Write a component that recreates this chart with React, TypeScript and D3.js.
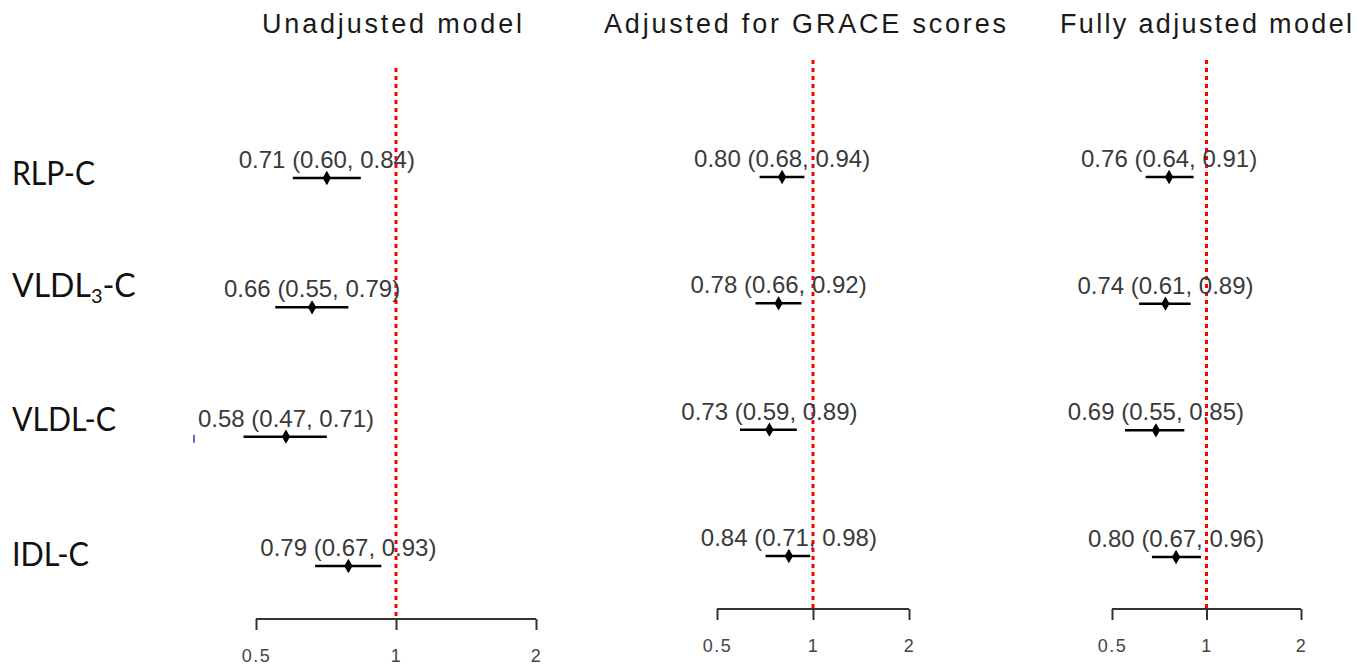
import React, { useRef, useEffect } from "react";
import * as d3 from "d3";

// rows, top to bottom
const markers = ["RLP-C", "VLDL3-C", "VLDL-C", "IDL-C"];

// panel titles
const titles = ["Unadjusted model", "Adjusted for GRACE scores", "Fully adjusted model"];

// hazard ratios with 95% CI, one array per panel
const unadjEst = [0.71, 0.66, 0.58, 0.79];
const unadjLo = [0.60, 0.55, 0.47, 0.67];
const unadjHi = [0.84, 0.79, 0.71, 0.93];

const graceEst = [0.80, 0.78, 0.73, 0.84];
const graceLo = [0.68, 0.66, 0.59, 0.71];
const graceHi = [0.94, 0.92, 0.89, 0.98];

const fullEst = [0.76, 0.74, 0.69, 0.80];
const fullLo = [0.64, 0.61, 0.55, 0.67];
const fullHi = [0.91, 0.89, 0.85, 0.96];

const xTicks = [0.5, 1, 2];

const W = 1371;
const H = 667;

const App = () => {
    const plot = useRef(null);

    useEffect(() => {
        const svg = d3.select(plot.current);
        svg.selectAll("*").remove();

        // layout of each panel (the three panels were pasted side by side, so each has its own size)
        const panels = [
            { est: unadjEst, lo: unadjLo, hi: unadjHi, x0: 256, x1: 536, y0: 178, y1: 566, axisY: 619, labY: 662, topY: 68, titleW: 260, titleX: 392 },
            { est: graceEst, lo: graceLo, hi: graceHi, x0: 717, x1: 909, y0: 177, y1: 556, axisY: 609, labY: 652, topY: 60, titleW: 402, titleX: 805 },
            { est: fullEst, lo: fullLo, hi: fullHi, x0: 1112, x1: 1301, y0: 177, y1: 557, axisY: 609, labY: 652, topY: 60, titleW: 292, titleX: 1206 },
        ];

        panels.forEach((p, k) => {
            const x = d3.scaleLog().domain([0.5, 2]).range([p.x0, p.x1]);
            const y = d3.scalePoint().domain(markers).range([p.y0, p.y1]);
            const g = svg.append("g");

            // title
            g.append("text")
                .attr("x", p.titleX)
                .attr("y", 33)
                .attr("text-anchor", "middle")
                .attr("font-family", "Liberation Sans, Arial, sans-serif")
                .attr("font-size", 27)
                .attr("fill", "#1a1a1a")
                .attr("textLength", p.titleW)
                .attr("lengthAdjust", "spacing")
                .text(titles[k]);

            // axis
            const axis = d3.axisBottom(x).tickValues(xTicks).tickFormat(d3.format("")).tickSizeOuter(0).tickSize(11);
            const ax = g.append("g")
                .attr("transform", `translate(0, ${p.axisY})`)
                .call(axis);
            ax.select(".domain")
                .attr("d", `M${p.x0},0H${p.x1}`)
                .attr("stroke", "#333")
                .attr("stroke-width", 2);
            ax.selectAll(".tick line").attr("stroke", "#333").attr("stroke-width", 2);
            ax.selectAll(".tick text")
                .attr("y", p.labY - p.axisY)
                .attr("dy", 0)
                .attr("font-family", "Liberation Sans, Arial, sans-serif")
                .attr("font-size", 18)
                .attr("letter-spacing", 1.5)
                .attr("fill", "#444");

            // reference line at HR = 1
            g.append("line")
                .attr("x1", x(1)).attr("x2", x(1))
                .attr("y1", p.topY).attr("y2", p.axisY)
                .attr("stroke", "#ff0000")
                .attr("stroke-width", 3)
                .attr("stroke-dasharray", "4 4");

            // CI lines
            g.selectAll(".ci")
                .data(markers)
                .join("line")
                .attr("x1", (d, i) => x(p.lo[i]))
                .attr("x2", (d, i) => x(p.hi[i]))
                .attr("y1", d => y(d))
                .attr("y2", d => y(d))
                .attr("stroke", "#000")
                .attr("stroke-width", 2.5);

            // point estimates
            g.selectAll(".pt")
                .data(markers)
                .join("path")
                .attr("d", d3.symbol(d3.symbolDiamond, 60))
                .attr("transform", (d, i) => `translate(${x(p.est[i])}, ${y(d)})`)
                .attr("fill", "#000");

            // labels
            g.selectAll(".lab")
                .data(markers)
                .join("text")
                .attr("x", (d, i) => x(p.est[i]))
                .attr("y", d => y(d) - 10)
                .attr("text-anchor", "middle")
                .attr("font-family", "Liberation Sans, Arial, sans-serif")
                .attr("font-size", 24)
                .attr("fill", "#3a3a3a")
                .text((d, i) => `${p.est[i].toFixed(2)} (${p.lo[i].toFixed(2)}, ${p.hi[i].toFixed(2)})`);

            if (k === 0) {
                // small stray tick left of the VLDL-C label in the source
                g.append("line")
                    .attr("x1", 194).attr("x2", 194)
                    .attr("y1", y("VLDL-C") - 2).attr("y2", y("VLDL-C") + 6)
                    .attr("stroke", "#2a3f8f")
                    .attr("stroke-width", 1.5);
            }
        });

        // row names on the left
        const nameY = [185, 297, 431, 566];
        const nameW = [83, 116, 104, 77];
        const names = svg.append("g");
        markers.forEach((m, i) => {
            const t = names.append("text")
                .attr("x", 12)
                .attr("y", nameY[i])
                .attr("font-family", "Lato, Open Sans, sans-serif")
                .attr("font-size", 32)
                .attr("fill", "#111");
            if (m === "VLDL3-C") {
                t.append("tspan").text("VLDL");
                t.append("tspan").attr("font-size", 20).attr("dy", 6).text("3");
                t.append("tspan").attr("dy", -6).text("-C");
            } else {
                t.attr("textLength", nameW[i])
                    .attr("lengthAdjust", "spacingAndGlyphs")
                    .text(m);
            }
        });
    });

    return (
        <svg ref={plot} width={W} height={H} style={{ position: "absolute", left: 0, top: 0, background: "#fff" }} />
    );
};

export default App;
